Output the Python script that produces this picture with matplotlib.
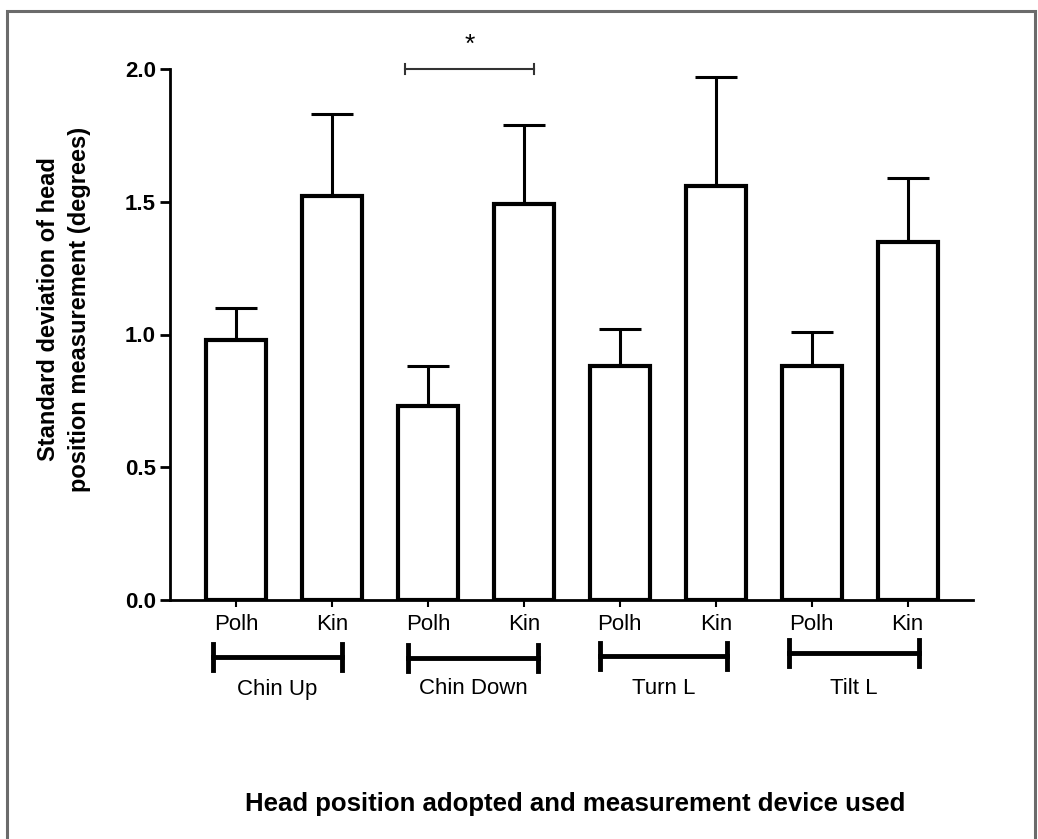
import matplotlib
matplotlib.use("Agg")
import matplotlib.pyplot as plt
from matplotlib.patches import Rectangle

groups = ["Chin Up", "Chin Down", "Turn L", "Tilt L"]
devices = ["Polh", "Kin"]
means = [0.98, 1.52, 0.73, 1.49, 0.88, 1.56, 0.88, 1.35]
errors = [0.12, 0.31, 0.15, 0.30, 0.14, 0.41, 0.13, 0.24]
yticks = [0.0, 0.5, 1.0, 1.5, 2.0]

W, H = 1038, 839
fig = plt.figure(figsize=(W / 100, H / 100), dpi=100)
plt.rcParams['font.family'] = ['Liberation Sans', 'DejaVu Sans']

# figure frame
fig.patches.append(Rectangle((7 / W, -0.01), (1035 - 7) / W, (H - 11) / H + 0.01,
                             transform=fig.transFigure, fill=False,
                             edgecolor='#6b6b6b', linewidth=2.2))

ax = fig.add_axes([170 / W, (H - 600) / H, (973 - 170) / W, (600 - 69) / H])
x = list(range(len(means)))
ax.bar(x, means, width=0.625, color='white', edgecolor='black', linewidth=3, zorder=2)
ax.errorbar(x, means, yerr=[[0] * len(errors), errors], fmt='none', ecolor='black',
            elinewidth=2.2, capsize=15, capthick=2.2, zorder=1)

ax.set_xlim(-0.6875, 7.68)
ax.set_ylim(0, 2.0)
ax.set_yticks(yticks)
ax.set_yticklabels([f"{v:.1f}" for v in yticks], fontsize=16, fontweight='bold')
ax.set_xticks(x)
ax.set_xticklabels(devices * len(groups), fontsize=16)
for s in ['top', 'right']:
    ax.spines[s].set_visible(False)
ax.spines['left'].set_linewidth(2)
ax.spines['bottom'].set_linewidth(2)
ax.tick_params(axis='y', length=7, width=2, pad=3)
ax.tick_params(axis='x', length=5, width=1.5, pad=5)

# significance bracket
ax.plot([1.76, 3.11], [2.0, 2.0], color='#333333', lw=1.5, clip_on=False)
for xx in (1.76, 3.11):
    ax.plot([xx, xx], [1.98, 2.02], color='#333333', lw=1.5, clip_on=False)
ax.text(2.435, 2.045, "*", ha='center', va='bottom', fontsize=19, clip_on=False)

# group brackets
bl = [(213, 342, 657), (408, 538, 658), (600, 727, 656), (789, 919, 653)]
for g, (x0, x1, yy) in zip(groups, bl):
    fx0, fx1, fy = x0 / W, x1 / W, (H - yy) / H
    fig.add_artist(plt.Line2D([fx0, fx1], [fy, fy], transform=fig.transFigure,
                              color='black', lw=3.5))
    for fx in (fx0, fx1):
        fig.add_artist(plt.Line2D([fx, fx], [fy - 13 / H, fy + 13 / H],
                                  transform=fig.transFigure, color='black', lw=3.5))
    fig.text((x0 + x1) / 2 / W, (H - 689) / H, g, ha='center', va='center', fontsize=16)

fig.text(64 / W, (H - 309) / H, "Standard deviation of head\nposition measurement (degrees)",
         rotation=90, ha='center', va='center', fontsize=17, fontweight='bold',
         linespacing=1.4)
fig.text(575 / W, (H - 804) / H, "Head position adopted and measurement device used",
         ha='center', va='center', fontsize=18.5, fontweight='bold')

fig.savefig("out.png", dpi=100)
